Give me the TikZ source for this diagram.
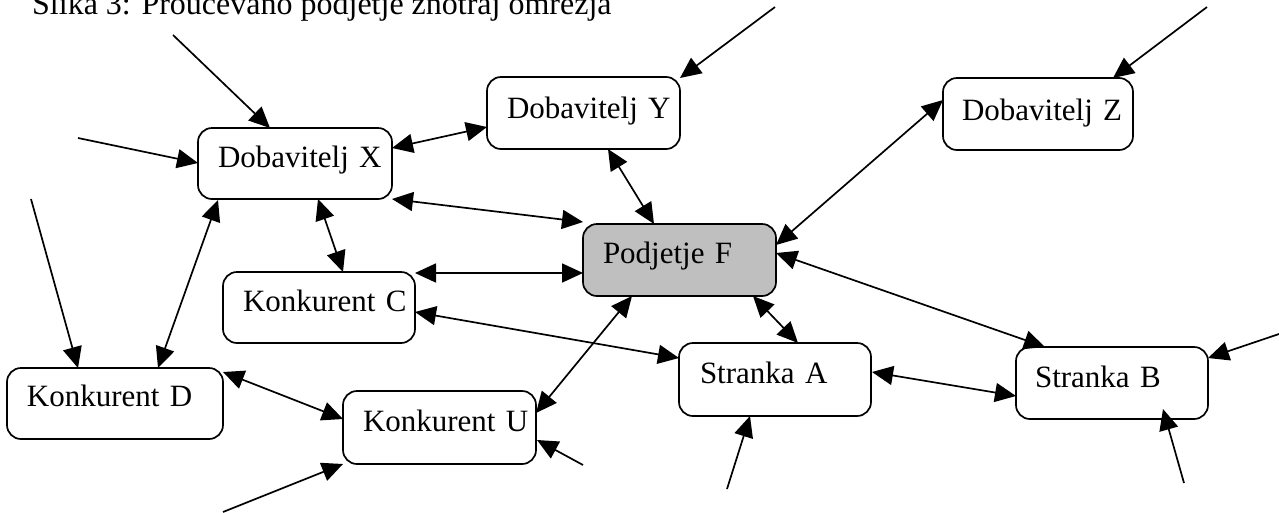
\documentclass[tikz,border=0pt]{standalone}
\usepackage{fontspec}
\setmainfont{Liberation Serif}
\usetikzlibrary{arrows.meta,calc}
\begin{document}
\begin{tikzpicture}[x=1pt,y=-1pt,
  box/.style={draw, line width=1.7pt, rounded corners=14pt, inner sep=0pt, outer sep=0pt,
    anchor=north west, align=left, font=\fontsize{31}{36}\selectfont},
  firm/.style={box, fill=black!25},
  link/.style={line width=1.7pt, {Triangle[length=21pt,width=19pt]}-{Triangle[length=21pt,width=19pt]}},
  feed/.style={line width=1.7pt, -{Triangle[length=21pt,width=19pt]}}]
\useasboundingbox (0,0) rectangle (1279,512);

% caption
\node[anchor=base west, inner sep=0pt, font=\fontsize{32}{38}\selectfont] (title) at (32,14)
  {Slika 3: Proučevano podjetje znotraj omrežja};

% network members
\node[box, text width=194pt, text height=39pt, text depth=32pt] (dx) at (198,128) {\noindent\hspace*{20pt}\mbox{Dobavitelj X}};
\node[box, text width=193pt, text height=41pt, text depth=31pt] (dy) at (487,77) {\noindent\hspace*{20pt}\mbox{Dobavitelj Y}};
\node[box, text width=190pt, text height=42pt, text depth=30pt] (dz) at (943,78) {\noindent\hspace*{19pt}\mbox{Dobavitelj Z}};
\node[firm, text width=193pt, text height=39pt, text depth=33pt] (pf) at (583,224) {\noindent\hspace*{20pt}\mbox{Podjetje F}};
\node[box, text width=192pt, text height=39pt, text depth=32pt] (kc) at (223,272) {\noindent\hspace*{20pt}\mbox{Konkurent C}};
\node[box, text width=216pt, text height=38pt, text depth=33pt] (kd) at (7,368) {\noindent\hspace*{20pt}\mbox{Konkurent D}};
\node[box, text width=193pt, text height=40pt, text depth=33pt] (ku) at (343,391) {\noindent\hspace*{20pt}\mbox{Konkurent U}};
\node[box, text width=192pt, text height=40pt, text depth=33pt] (sa) at (679,343) {\noindent\hspace*{21pt}\mbox{Stranka A}};
\node[box, text width=192pt, text height=40pt, text depth=32pt] (sb) at (1016,347) {\noindent\hspace*{19pt}\mbox{Stranka B}};

% loose ends of links coming from outside the network
\coordinate (e1) at (173,35);
\coordinate (e2) at (78,138);
\coordinate (e3) at (31,199);
\coordinate (e4) at (775,7);
\coordinate (e5) at (1207,7);
\coordinate (e6) at (223,512);
\coordinate (e7) at (583,465);
\coordinate (e8) at (727,489);
\coordinate (e9) at (1184,483);
\coordinate (e10) at (1279,334);

% relations inside the network
\draw[link] ($(dx.north west)+(194,20)$) -- ($(dy.north west)+(0,50)$);
\draw[link] ($(dx.north west)+(194,71)$) -- ($(pf.north west)+(0,-2)$);
\draw[link] ($(dx.north west)+(120,71)$) -- ($(kc.north west)+(120,0)$);
\draw[link] ($(dx.north west)+(20,72)$) -- ($(kd.north west)+(151,0)$);
\draw[link] ($(dy.north west)+(121,72)$) -- ($(pf.north west)+(71,0)$);
\draw[link] ($(pf.north west)+(193,21)$) -- ($(dz.north west)+(0,22)$);
\draw[link] ($(pf.north west)+(193,29)$) -- ($(sb.north west)+(29,0)$);
\draw[link] ($(pf.north west)+(170,72)$) -- ($(sa.north west)+(119,0)$);
\draw[link] ($(pf.north west)+(0,49)$) -- ($(kc.north west)+(192,1)$);
\draw[link] ($(pf.north west)+(49,72)$) -- ($(ku.north west)+(193,22)$);
\draw[link] ($(kc.north west)+(192,40)$) -- ($(sa.north west)+(0,15)$);
\draw[link] ($(kd.north west)+(216,4)$) -- ($(ku.north west)+(0,28)$);
\draw[link] ($(sa.north west)+(193,29)$) -- ($(sb.north west)+(0,49)$);

% influences from the wider environment
\draw[feed] (e1) -- ($(dx.north west)+(72,0)$);
\draw[feed] (e2) -- ($(dx.north west)+(0,35)$);
\draw[feed] (e3) -- ($(kd.north west)+(71,0)$);
\draw[feed] (e4) -- ($(dy.north west)+(193,1)$);
\draw[feed] (e5) -- ($(dz.north west)+(170,0)$);
\draw[feed] (e6) -- ($(ku.north west)+(0,73)$);
\draw[feed] (e7) -- ($(ku.north west)+(194,49)$);
\draw[feed] (e8) -- ($(sa.north west)+(71,73)$);
\draw[feed] (e9) -- ($(sb.north west)+(147,62)$);
\draw[feed] (e10) -- ($(sb.north west)+(192,11)$);
\end{tikzpicture}
\end{document}
